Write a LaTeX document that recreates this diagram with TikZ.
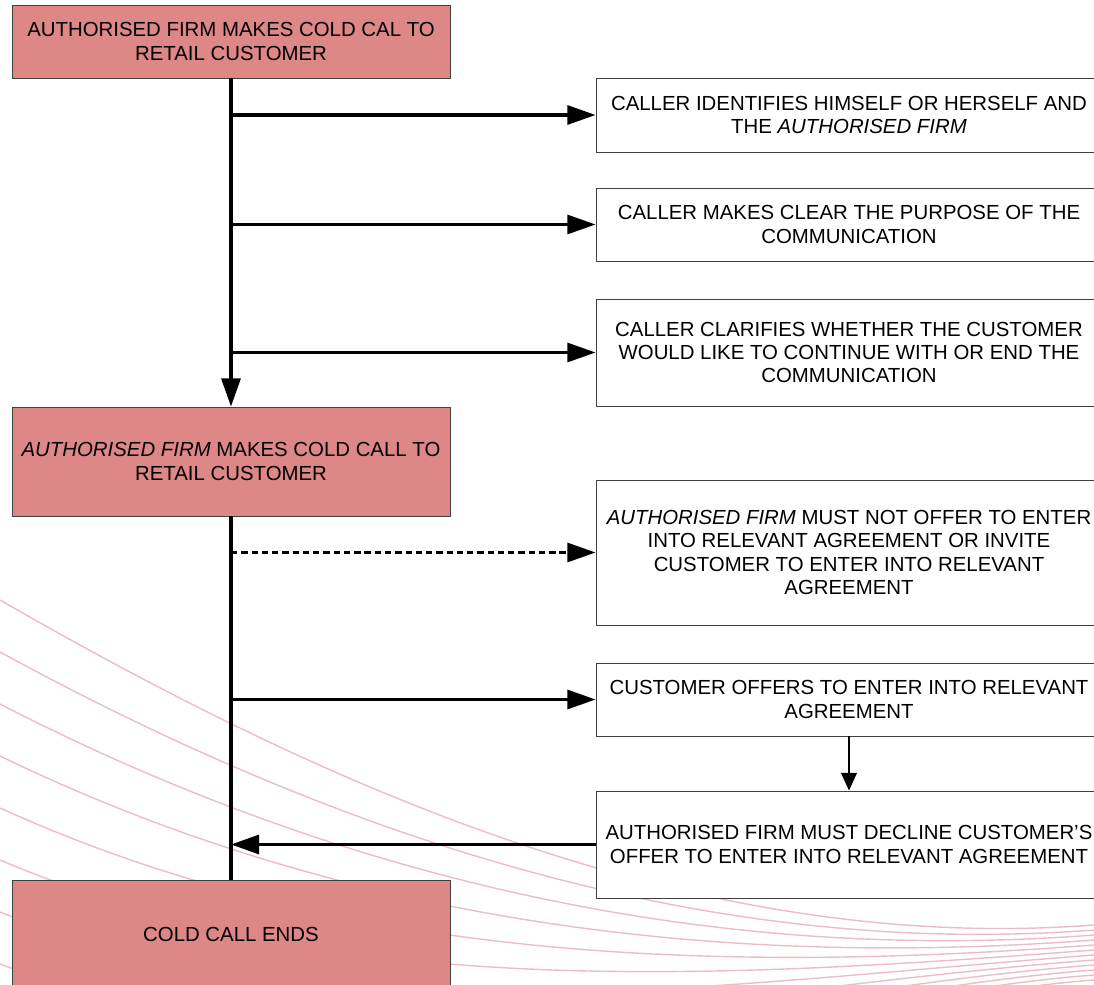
\documentclass[tikz,border=0pt]{standalone}
\usepackage{fontspec}
\setmainfont{Liberation Sans}
\usepackage{tikz}
\usetikzlibrary{arrows.meta, positioning}
\definecolor{boxred}{RGB}{222, 135, 135}
\definecolor{boxedge}{RGB}{64, 64, 64}
\definecolor{swoosh}{RGB}{234, 190, 195}

\tikzset{
    boxtext/.style={align=center, inner sep=0pt, font=\fontsize{14.5}{16.4}\selectfont},
    redbox/.style={boxtext, draw=boxedge, fill=boxred, line width=0.6pt, minimum width=10.95cm},
    whitebox/.style={boxtext, draw=boxedge, fill=white, line width=0.6pt, minimum width=12.65cm},
    flow/.style={line width=2.2pt, -{Triangle[length=20pt, width=13.5pt]}},
    smallflow/.style={line width=1.6pt, -{Triangle[length=12.5pt, width=11pt]}}
}

\begin{document}
\begin{tikzpicture}[x=0.025cm, y=-0.025cm, line join=round]
    \useasboundingbox (0,0) rectangle (1094,985);
    \clip (0,0) rectangle (1094,985);

    % Background swooshes
    \foreach \i in {0,...,11}
        \draw[swoosh, line width=1pt] (0,{600+52*\i}) .. controls (330,{790+42*\i}) and (700,{955+5*\i}) .. (1094,{925+5*\i});

    % Left column
    \node[redbox, minimum height=1.825cm] (firmcall) at (231,41.5)
        {AUTHORISED FIRM MAKES COLD CAL TO\\RETAIL CUSTOMER};
    \node[redbox, minimum height=2.725cm] (firmcall2) at (231,461.5)
        {\textit{AUTHORISED FIRM} MAKES COLD CALL TO\\RETAIL CUSTOMER};
    \node[redbox, minimum height=2.7cm] (callend) at (231,934)
        {COLD CALL ENDS};

    % Right column
    \node[whitebox, minimum height=1.85cm] (identify) at (849,115)
        {CALLER IDENTIFIES HIMSELF OR HERSELF AND\\THE \textit{AUTHORISED FIRM}};
    \node[whitebox, minimum height=1.825cm] (purpose) at (849,224.5)
        {CALLER MAKES CLEAR THE PURPOSE OF THE\\COMMUNICATION};
    \node[whitebox, minimum height=2.675cm] (clarify) at (849,352.5)
        {CALLER CLARIFIES WHETHER THE CUSTOMER\\WOULD LIKE TO CONTINUE WITH OR END THE\\COMMUNICATION};
    \node[whitebox, minimum height=3.625cm] (nooffer) at (849,552.5)
        {\textit{AUTHORISED FIRM} MUST NOT OFFER TO ENTER\\INTO RELEVANT AGREEMENT OR INVITE\\CUSTOMER TO ENTER INTO RELEVANT\\AGREEMENT};
    \node[whitebox, minimum height=1.825cm] (custoffer) at (849,699.5)
        {CUSTOMER OFFERS TO ENTER INTO RELEVANT\\AGREEMENT};
    \node[whitebox, minimum height=2.675cm] (decline) at (849,844.5)
        {AUTHORISED FIRM MUST DECLINE CUSTOMER’S\\OFFER TO ENTER INTO RELEVANT AGREEMENT};

    % Trunk
    \draw[flow] (firmcall.south) -- (firmcall2.north);
    \draw[line width=2.2pt] (firmcall2.south) -- (callend.north);

    % Branches
    \draw[flow] (firmcall.south |- identify.west) -- (identify.west);
    \draw[flow] (firmcall.south |- purpose.west) -- (purpose.west);
    \draw[flow] (firmcall.south |- clarify.west) -- (clarify.west);
    \draw[flow, dash pattern=on 4.5pt off 2.8pt] (firmcall2.south |- nooffer.west) -- (nooffer.west);
    \draw[flow] (firmcall2.south |- custoffer.west) -- (custoffer.west);
    \draw[smallflow] (custoffer.south) -- (decline.north);
    \draw[flow] (decline.west) -- (decline.west -| callend.north);
\end{tikzpicture}
\end{document}
